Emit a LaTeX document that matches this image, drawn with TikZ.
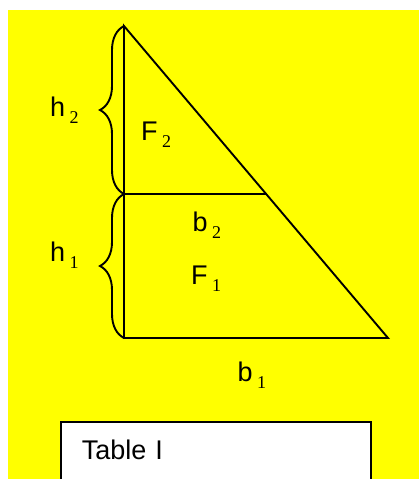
\documentclass[tikz,border=0pt]{standalone}
\usepackage{fontspec}
\setmainfont{Liberation Sans}
\newfontfamily\subfont{Liberation Serif}
\usepackage{xcolor}
\usepackage{tikz}
\usetikzlibrary{calc,decorations.pathreplacing}
\definecolor{bgyellow}{RGB}{255,255,0}
\newcommand{\lab}[2]{#1\kern4.5pt\raisebox{-7pt}{\fontsize{18}{20}\subfont #2}}
\tikzset{
  edge/.style={line width=1.9pt, line join=miter},
  brc/.style={line width=1.9pt, decorate, decoration={brace, amplitude=24pt}},
  lbl/.style={inner sep=0pt, anchor=base west, font=\fontsize{27}{30}\selectfont},
  tablebox/.style={draw, line width=1.6pt, fill=white, anchor=north west,
                   inner xsep=21pt, inner ysep=19pt, text height=19pt,
                   text depth=40pt, text width=268pt,
                   font=\fontsize{27}{30}\selectfont}
}
\begin{document}
\begin{tikzpicture}[x=1pt, y=-1pt]
  \useasboundingbox (0,0) rectangle (419,479);
  \fill[bgyellow] (8,10) rectangle (419,479);
  % triangle
  \coordinate (apex) at (124,26);
  \coordinate (foot) at (124,338);
  \coordinate (tip) at (388,338);
  \coordinate (mid) at (124,194);
  \coordinate (cut) at ($(apex)!{168/312}!(tip)$);
  \draw[edge] (apex) -- (foot) -- (tip) -- cycle;
  \draw[edge] (mid) -- (cut);
  % braces
  \draw[brc] (mid) -- (apex);
  \draw[brc] (foot) -- (mid);
  % labels
  \node[lbl] (h2) at (50,116) {\lab{h}{2}};
  \node[lbl] (F2) at (141,140) {\lab{F}{2}};
  \node[lbl] (b2) at (192.5,231) {\lab{b}{2}};
  \node[lbl] (F1) at (191,284) {\lab{F}{1}};
  \node[lbl] (h1) at (50,261) {\lab{h}{1}};
  \node[lbl] (b1) at (237.5,381) {\lab{b}{1}};
  \node[tablebox] (tab) at (60,421) {Table I};
\end{tikzpicture}
\end{document}
